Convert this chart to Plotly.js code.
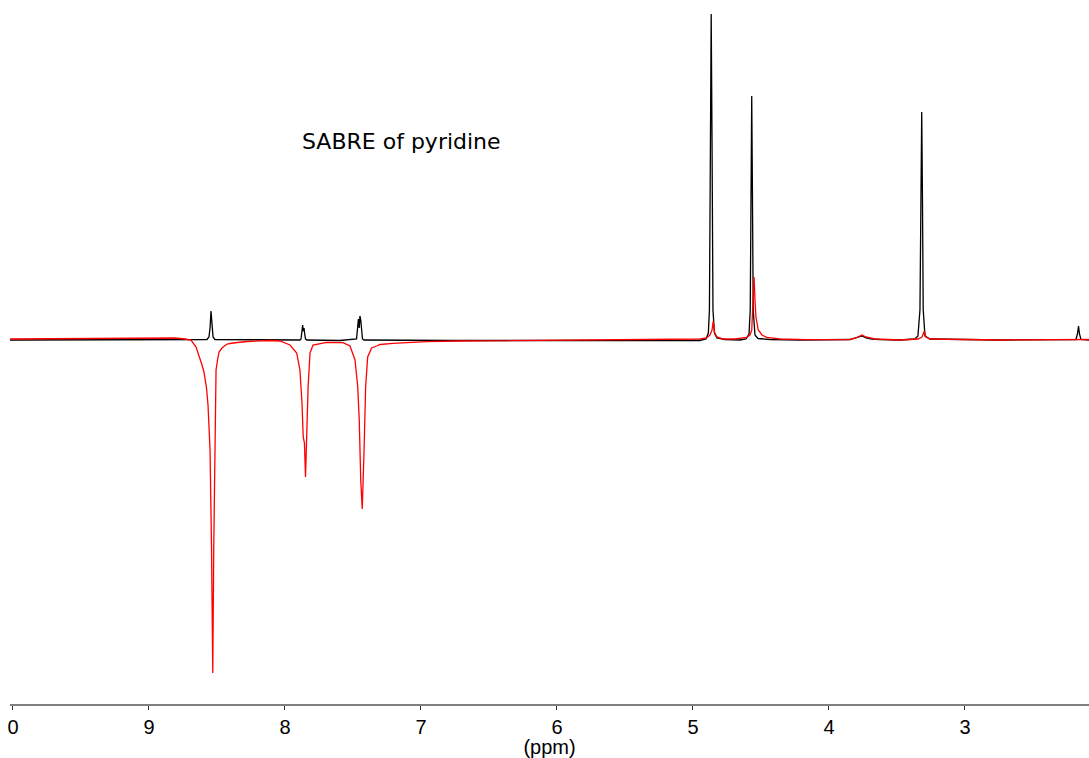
<!DOCTYPE html>
<html>
<head>
<meta charset="utf-8">
<script src="https://cdn.plot.ly/plotly-3.0.1.min.js"></script>
<style>html,body{margin:0;padding:0;background:#fff;}#chart{width:1089px;height:758px;}</style>
</head>
<body>
<div id="chart"></div>
<script>
// Reference spectrum (black), chemical shift in ppm and relative intensity
const blackPpm = [10.022, 9.360, 8.625, 8.574, 8.559, 8.551, 8.544, 8.537, 8.529, 8.515, 8.184, 7.890, 7.882, 7.875, 7.870, 7.866, 7.860, 7.855, 7.849, 7.838, 7.596, 7.474, 7.465, 7.460, 7.454, 7.449, 7.443, 7.438, 7.430, 7.419, 6.787, 5.684, 4.949, 4.904, 4.887, 4.879, 4.871, 4.866, 4.860, 4.853, 4.842, 4.824, 4.765, 4.654, 4.610, 4.588, 4.579, 4.574, 4.568, 4.563, 4.557, 4.544, 4.522, 4.434, 4.213, 3.846, 3.801, 3.757, 3.728, 3.684, 3.625, 3.478, 3.368, 3.346, 3.331, 3.324, 3.318, 3.313, 3.307, 3.294, 3.257, 2.743, 2.184, 2.173, 2.165, 2.158, 2.147, 2.088];
const blackIntensity = [0, 0, 0.5, 0.5, 3, 12, 29, 12, 3, 0.5, 0, 0, 1, 8, 15, 9, 12, 6, 1, 0, -0.5, 1, 12, 21, 12, 24, 20, 8, 1, 0, -0.5, -0.5, -0.5, 1, 7, 30, 200, 326, 200, 30, 7, 2, 0.5, 0, 1, 6, 30, 150, 244, 150, 30, 5, 1.5, 0.5, 0, 0.5, 2, 4, 2, 1, 0.5, 0, 1, 4, 30, 150, 228, 150, 30, 4, 1, 0, 0.5, 6, 14, 6, 0.5, 0];

// SABRE hyperpolarised spectrum (red)
const redPpm = [10.022, 9.654, 9.213, 8.919, 8.809, 8.735, 8.691, 8.654, 8.625, 8.610, 8.596, 8.577, 8.566, 8.551, 8.540, 8.531, 8.524, 8.517, 8.512, 8.507, 8.496, 8.485, 8.463, 8.426, 8.382, 8.279, 8.110, 8.037, 7.963, 7.914, 7.890, 7.875, 7.866, 7.857, 7.849, 7.841, 7.830, 7.816, 7.794, 7.693, 7.574, 7.522, 7.485, 7.465, 7.454, 7.443, 7.432, 7.419, 7.407, 7.392, 7.363, 7.326, 7.301, 7.206, 6.958, 6.713, 6.272, 5.684, 5.096, 4.949, 4.900, 4.875, 4.860, 4.851, 4.842, 4.826, 4.779, 4.691, 4.605, 4.581, 4.568, 4.559, 4.551, 4.544, 4.537, 4.520, 4.493, 4.458, 4.360, 4.162, 3.846, 3.801, 3.757, 3.728, 3.662, 3.478, 3.346, 3.316, 3.299, 3.287, 3.257, 2.743, 2.088];
const redIntensity = [1, 1.5, 2, 2.5, 2, 1, 0, -7, -18, -25, -32, -48, -65, -110, -210, -333, -210, -120, -60, -30, -20, -12, -8, -4, -3, -1.5, -0.5, -1, -5, -13, -30, -63, -97, -103, -137, -90, -47, -13, -5, -2.3, -2.7, -6, -20, -47, -80, -140, -169, -113, -47, -17, -8, -6, -4.5, -3.3, -1.7, -1, -0.5, 0, 0.3, 1, 2, 5, 10, 19, 8, 3.3, 1, 1, 2.7, 5, 10, 35, 63, 40, 23, 10, 5, 2.7, 1, 0.3, 0.5, 2, 5, 3, 1, 0, 1, 3, 9, 3, 1, 0, 0.5];

const tickValues = [10, 9, 8, 7, 6, 5, 4, 3];
const tickLabels = ["0", "9", "8", "7", "6", "5", "4", "3"];
const chartTitle = "SABRE of pyridine";
const axisTitle = "(ppm)";

const traces = [
  {x: blackPpm, y: blackIntensity, type: 'scatter', mode: 'lines',
   line: {color: '#000000', width: 1.3}, hoverinfo: 'skip'},
  {x: redPpm, y: redIntensity, type: 'scatter', mode: 'lines',
   line: {color: '#ff0000', width: 1.3}, hoverinfo: 'skip'}
];

const layout = {
  width: 1089, height: 758,
  margin: {l: 10, r: 0, t: 0, b: 54, pad: 0},
  paper_bgcolor: '#ffffff', plot_bgcolor: '#ffffff',
  showlegend: false,
  xaxis: {
    range: [10.022, 2.088], autorange: false,
    showgrid: false, zeroline: false,
    showline: true, linecolor: '#7f7f7f', linewidth: 2,
    ticks: 'outside', ticklen: 4, tickwidth: 1, tickcolor: '#333333',
    tickvals: tickValues, ticktext: tickLabels,
    tickfont: {family: 'Liberation Sans, Arial, sans-serif', size: 20, color: '#000'},
    title: {text: axisTitle, font: {family: 'Liberation Sans, Arial, sans-serif', size: 20, color: '#000'}, standoff: 0},
    automargin: false
  },
  yaxis: {
    range: [-364, 340], autorange: false,
    visible: false, showgrid: false, zeroline: false
  },
  annotations: [{
    x: 7.14, y: 199, xref: 'x', yref: 'y',
    text: chartTitle, showarrow: false,
    xanchor: 'center', yanchor: 'middle',
    font: {family: 'DejaVu Sans, sans-serif', size: 22, color: '#000'}
  }]
};

Plotly.newPlot('chart', traces, layout, {displayModeBar: false, staticPlot: true});
</script>
</body>
</html>
